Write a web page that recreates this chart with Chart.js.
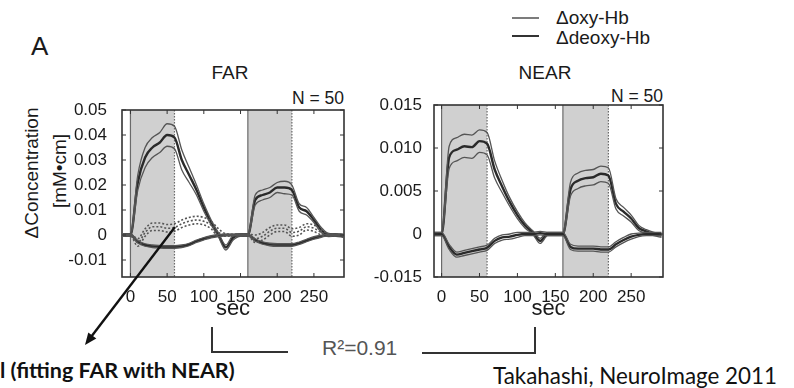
<!DOCTYPE html>
<html>
<head>
<meta charset="utf-8">
<script src="https://cdn.jsdelivr.net/npm/chart.js@4.4.1/dist/chart.umd.min.js"></script>
<style>
  body { margin:0; background:#fff; width:794px; height:388px; overflow:hidden; position:relative;
         font-family:'Liberation Sans', Arial, sans-serif; color:#1a1a1a; }
  .box { position:absolute; }
  .t { position:absolute; white-space:nowrap; line-height:1; }
  .c { transform:translate(-50%,-50%); }
  .rot { transform:translate(-50%,-50%) rotate(-90deg); }
</style>
</head>
<body>

<div class="t" style="left:31px;top:33px;font-size:26px;">A</div>
<div class="t c" style="left:230px;top:72px;font-size:19px;">FAR</div>
<div class="t c" style="left:545px;top:72px;font-size:19px;">NEAR</div>
<div class="t" style="right:450px;top:90px;font-size:17.5px;">N = 50</div>
<div class="t" style="right:131px;top:88px;font-size:17.5px;">N = 50</div>

<div class="t" style="left:556px;top:8px;font-size:19px;">Δoxy-Hb</div>
<div class="t" style="left:556px;top:28px;font-size:19px;">Δdeoxy-Hb</div>

<div class="t rot" style="left:31px;top:173px;font-size:19px;">ΔConcentration</div>
<div class="t rot" style="left:59px;top:171px;font-size:19px;">[mM•cm]</div>

<div class="t" style="left:322px;top:337px;font-size:21px;color:#555;">R²=0.91</div>
<div class="t" style="left:0px;top:371px;transform:translate(0,-50%);font-family:Lato,sans-serif;font-weight:bold;font-size:21.5px;color:#111;">l (fitting FAR with NEAR)</div>
<div class="t" style="left:493px;top:376px;transform:translate(0,-50%);font-family:Lato,sans-serif;font-size:22.4px;color:#111;">Takahashi, NeuroImage 2011</div>

<div class="box" style="left:62px;top:100px;width:290px;height:222px;"><canvas id="far"></canvas></div>
<div class="box" style="left:374px;top:95px;width:297px;height:227px;"><canvas id="near"></canvas></div>

<svg class="box" style="left:0;top:0;z-index:5;pointer-events:none;" width="794" height="388">
  <line x1="512" y1="18" x2="539" y2="18" stroke="#444" stroke-width="1.4"/>
  <line x1="512" y1="36" x2="539" y2="36" stroke="#333" stroke-width="2"/>
  <line x1="175" y1="227" x2="91" y2="337" stroke="#111" stroke-width="2.4"/>
  <polygon points="85,345 96.3,338.5 88.3,332.5" fill="#111"/>
  <polyline points="212,327 212,352 288,352" fill="none" stroke="#333" stroke-width="2"/>
  <polyline points="422,353 535,353 535,327" fill="none" stroke="#333" stroke-width="2"/>
</svg>

<script>
// time axis (sec)
const timeSec = [-10, 0, 10, 20, 30, 40, 50, 60, 70, 80, 90, 100, 110, 120, 130, 140, 150,
                 160, 170, 180, 190, 200, 210, 220, 230, 240, 250, 260, 270, 280, 290];

// stimulation blocks
const blockStart = [0, 160];
const blockEnd = [60, 220];

// FAR channel
const farOxy = [0, 0, 0.021, 0.031, 0.035, 0.037, 0.040, 0.039, 0.030, 0.024, 0.018, 0.011, 0.005, 0.000, -0.005, -0.001,
                0.000, 0.000, 0.014, 0.016, 0.017, 0.019, 0.019, 0.018, 0.011, 0.0095, 0.006, 0.002, 0.000, 0.000, -0.0005];
const farOxyHi = [0.0005, 0.0005, 0.024, 0.035, 0.039, 0.041, 0.0445, 0.0435, 0.034, 0.027, 0.020, 0.0125, 0.006, 0.0008, -0.004, 0.0,
                  0.0005, 0.0005, 0.016, 0.018, 0.019, 0.021, 0.0215, 0.020, 0.0125, 0.011, 0.007, 0.003, 0.0006, 0.0005, 0.0];
const farOxyLo = [-0.0005, -0.0005, 0.018, 0.027, 0.031, 0.033, 0.0355, 0.0345, 0.026, 0.021, 0.016, 0.0095, 0.004, -0.0008, -0.006, -0.002,
                  -0.0005, -0.0005, 0.012, 0.014, 0.015, 0.017, 0.0165, 0.016, 0.0095, 0.008, 0.005, 0.001, -0.0006, -0.0005, -0.001];
const farDeoxy = [0, 0, -0.0027, -0.004, -0.0045, -0.0047, -0.0048, -0.0048, -0.0045, -0.0038, -0.0025, -0.0015, -0.0007, -0.0002, 0, 0,
                  0, 0, -0.002, -0.0032, -0.0038, -0.004, -0.004, -0.004, -0.0033, -0.0022, -0.0012, -0.0005, 0, 0, 0];
const farDeoxyHi = [0.0003, 0.0003, -0.0022, -0.0035, -0.004, -0.0042, -0.0043, -0.0043, -0.004, -0.0033, -0.002, -0.001, -0.0003, 0.0002, 0.0003, 0.0003,
                    0.0003, 0.0003, -0.0015, -0.0027, -0.0033, -0.0035, -0.0035, -0.0035, -0.0028, -0.0017, -0.0007, -0.0001, 0.0003, 0.0003, 0.0003];
const farDeoxyLo = [-0.0003, -0.0003, -0.0032, -0.0045, -0.005, -0.0052, -0.0053, -0.0053, -0.005, -0.0043, -0.003, -0.002, -0.0011, -0.0006, -0.0003, -0.0003,
                    -0.0003, -0.0003, -0.0025, -0.0037, -0.0043, -0.0045, -0.0045, -0.0045, -0.0038, -0.0027, -0.0017, -0.0009, -0.0003, -0.0003, -0.0003];
const farFit = [0, 0, -0.003, 0.001, 0.0033, 0.0033, 0.0027, 0.003, 0.0045, 0.0055, 0.006, 0.0055, 0.004, 0.001, 0, 0,
                0, 0, -0.0015, -0.0005, 0.0015, 0.0027, 0.0027, 0.001, 0.0015, 0.0033, 0.0027, 0.001, 0, 0, 0];
const farFitHi = [0.0003, 0.0003, -0.0015, 0.0025, 0.0048, 0.0048, 0.0042, 0.0045, 0.006, 0.007, 0.0075, 0.007, 0.0055, 0.0025, 0.0005, 0.0003,
                  0.0003, 0.0003, 0, 0.001, 0.003, 0.004, 0.004, 0.0025, 0.003, 0.0045, 0.004, 0.002, 0.0005, 0.0003, 0.0003];
const farFitLo = [-0.0003, -0.0003, -0.0045, -0.0005, 0.0018, 0.0018, 0.0012, 0.0015, 0.003, 0.004, 0.0045, 0.004, 0.0025, -0.0005, -0.0005, -0.0003,
                  -0.0003, -0.0003, -0.003, -0.002, 0, 0.0014, 0.0014, -0.0005, 0, 0.002, 0.0014, 0, -0.0005, -0.0003, -0.0003];

// NEAR channel
const nearOxy = [0, 0, 0.0089, 0.0098, 0.0102, 0.0101, 0.0108, 0.0105, 0.0075, 0.0055, 0.0037, 0.0022, 0.001, 0.0002, -0.0008, 0,
                 0, 0, 0.0052, 0.0062, 0.0065, 0.0066, 0.007, 0.0068, 0.0035, 0.0026, 0.0018, 0.0007, 0.0003, 0, -0.0002];
const nearOxyHi = [0.0002, 0.0002, 0.0102, 0.0112, 0.0116, 0.0115, 0.0121, 0.0118, 0.0085, 0.0062, 0.0042, 0.0026, 0.0013, 0.0004, -0.0005, 0.0002,
                   0.0002, 0.0002, 0.006, 0.0071, 0.0074, 0.0075, 0.0079, 0.0077, 0.0041, 0.0031, 0.0022, 0.001, 0.0005, 0.0002, 0];
const nearOxyLo = [-0.0002, -0.0002, 0.0076, 0.0085, 0.0089, 0.0088, 0.0095, 0.0092, 0.0065, 0.0048, 0.0032, 0.0018, 0.0007, 0, -0.0011, -0.0002,
                   -0.0002, -0.0002, 0.0044, 0.0053, 0.0056, 0.0057, 0.0061, 0.0059, 0.0029, 0.0021, 0.0014, 0.0004, 0.0001, -0.0002, -0.0004];
const nearDeoxy = [0, 0, -0.0015, -0.0024, -0.0022, -0.002, -0.0018, -0.0016, -0.0008, -0.0004, -0.0003, -0.0001, 0, 0, 0.0001, 0,
                   0, 0, -0.0015, -0.0017, -0.0017, -0.0017, -0.0018, -0.0018, -0.0012, -0.0007, -0.0003, -0.0001, 0, 0, 0];
const nearDeoxyHi = [0.0002, 0.0002, -0.0012, -0.0021, -0.0019, -0.0017, -0.0015, -0.0013, -0.0005, -0.0001, 0, 0.0002, 0.0002, 0.0002, 0.0003, 0.0002,
                     0.0002, 0.0002, -0.0012, -0.0014, -0.0014, -0.0014, -0.0015, -0.0015, -0.0009, -0.0004, 0, 0.0001, 0.0002, 0.0002, 0.0002];
const nearDeoxyLo = [-0.0002, -0.0002, -0.0018, -0.0027, -0.0025, -0.0023, -0.0021, -0.0019, -0.0011, -0.0007, -0.0006, -0.0004, -0.0002, -0.0002, -0.0001, -0.0002,
                     -0.0002, -0.0002, -0.0018, -0.002, -0.002, -0.002, -0.0021, -0.0021, -0.0015, -0.001, -0.0006, -0.0003, -0.0002, -0.0002, -0.0002];

// tick labels
const xTicks = [0, 50, 100, 150, 200, 250];
const farYTicks = [-0.01, 0, 0.01, 0.02, 0.03, 0.04, 0.05];
const farYLabels = ['-0.01', '0', '0.01', '0.02', '0.03', '0.04', '0.05'];
const nearYTicks = [-0.005, 0, 0.005, 0.010, 0.015];
const nearYLabels = ['-0.015', '0', '0.005', '0.010', '0.015'];

const stimBlocks = {
  id: 'stimBlocks',
  beforeDatasetsDraw(chart) {
    const {ctx, chartArea: a, scales: {x}} = chart;
    ctx.save();
    blockStart.forEach((s, i) => {
      const x0 = x.getPixelForValue(s), x1 = x.getPixelForValue(blockEnd[i]);
      ctx.fillStyle = '#d0d0d0';
      ctx.fillRect(x0, a.top, x1 - x0, a.bottom - a.top);
      ctx.strokeStyle = '#6a6a6a';
      ctx.lineWidth = 1.2;
      ctx.setLineDash([]);
      ctx.beginPath(); ctx.moveTo(x0, a.top); ctx.lineTo(x0, a.bottom); ctx.stroke();
      ctx.setLineDash([1.5, 1.5]);
      ctx.beginPath(); ctx.moveTo(x1, a.top); ctx.lineTo(x1, a.bottom); ctx.stroke();
    });
    ctx.restore();
  }
};

// matlab style box with inward ticks
const frameTicks = {
  id: 'frameTicks',
  afterDraw(chart) {
    const {ctx, chartArea: a, scales: {x, y}} = chart;
    ctx.save();
    ctx.strokeStyle = '#333';
    ctx.lineWidth = 1;
    ctx.beginPath();
    x.ticks.forEach(t => {
      const px = x.getPixelForValue(t.value);
      ctx.moveTo(px, a.bottom); ctx.lineTo(px, a.bottom - 4);
      ctx.moveTo(px, a.top); ctx.lineTo(px, a.top + 4);
    });
    y.ticks.forEach(t => {
      const py = y.getPixelForValue(t.value);
      ctx.moveTo(a.left, py); ctx.lineTo(a.left + 4, py);
      ctx.moveTo(a.right, py); ctx.lineTo(a.right - 4, py);
    });
    ctx.stroke();
    ctx.lineWidth = 1.6;
    ctx.strokeRect(a.left, a.top, a.right - a.left, a.bottom - a.top);
    ctx.restore();
  }
};

function line(values, opts) {
  return Object.assign({
    data: values.map((v, i) => ({x: timeSec[i], y: v})),
    borderColor: '#555',
    borderWidth: 1.3,
    pointRadius: 0,
    fill: false,
    cubicInterpolationMode: 'monotone'
  }, opts);
}
const mean = {borderColor: '#2a2a2a', borderWidth: 2.4};
const dotted = {borderColor: '#555', borderWidth: 1.6, borderDash: [2, 2]};

function makeChart(id, datasets, xMin, xMax, yMin, yMax, yTicks, yLabels, yPad) {
  const tickFont = {family: "'Liberation Sans', Arial, sans-serif", size: 17};
  return new Chart(document.getElementById(id), {
    type: 'line',
    data: {datasets: datasets},
    options: {
      responsive: true,
      maintainAspectRatio: false,
      animation: false,
      layout: {padding: {top: 10, right: 8, left: 0, bottom: 0}},
      plugins: {legend: {display: false}, tooltip: {enabled: false}},
      scales: {
        x: {
          type: 'linear', min: xMin, max: xMax,
          grid: {display: false}, border: {display: false},
          ticks: {font: tickFont, color: '#1a1a1a', padding: 2, maxRotation: 0, autoSkip: false},
          afterBuildTicks: s => { s.ticks = xTicks.map(v => ({value: v})); },
          afterFit: s => { s.height = 45; s.paddingLeft = 0; s.paddingRight = 0; },
          title: {display: true, text: 'sec', color: '#1a1a1a', padding: 0,
                  font: {family: "'Liberation Sans', Arial, sans-serif", size: 22}}
        },
        y: {
          min: yMin, max: yMax,
          grid: {display: false}, border: {display: false},
          ticks: {font: tickFont, color: '#1a1a1a', padding: yPad,
                  callback: (v, i) => yLabels[i]},
          afterBuildTicks: s => { s.ticks = yTicks.map(v => ({value: v})); },
          afterFit: s => { s.width = 60; s.paddingTop = 0; s.paddingBottom = 0; }
        }
      }
    },
    plugins: [stimBlocks, frameTicks]
  });
}

makeChart('far', [
  line(farFitHi, dotted), line(farFitLo, dotted), line(farFit, dotted),
  line(farDeoxyHi), line(farDeoxyLo), line(farDeoxy, mean),
  line(farOxyHi), line(farOxyLo), line(farOxy, mean)
], -11.5, 291, -0.0168, 0.05, farYTicks, farYLabels, 7);

makeChart('near', [
  line(nearDeoxyHi), line(nearDeoxyLo), line(nearDeoxy, mean),
  line(nearOxyHi), line(nearOxyLo), line(nearOxy, mean)
], -10, 292, -0.005, 0.015, nearYTicks, nearYLabels, 4);
</script>
</body>
</html>
